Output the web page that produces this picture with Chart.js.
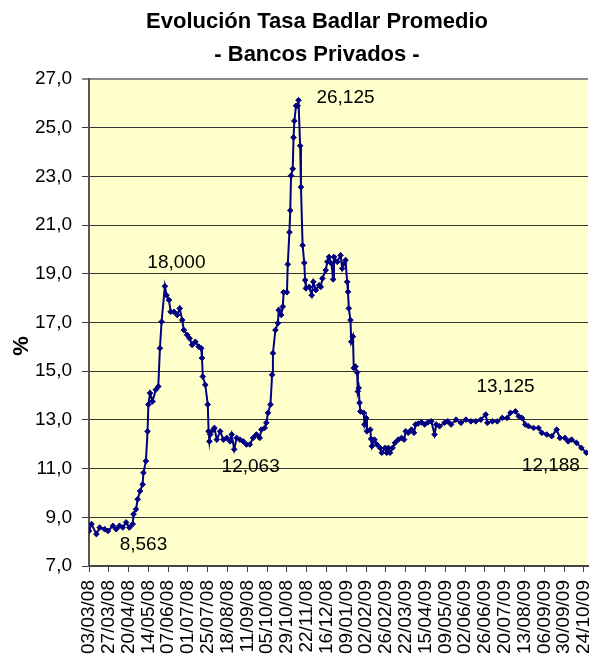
<!DOCTYPE html>
<html>
<head>
<meta charset="utf-8">
<script src="https://cdn.jsdelivr.net/npm/chart.js@4"></script>
<style>
  html, body { margin: 0; padding: 0; background: #ffffff; }
  #c { display: block; }
</style>
</head>
<body>
<canvas id="c" width="593" height="659"></canvas>
<script>
// ---- DATA ----
// Day offsets from 03/03/2008 for each observation
const dayOffsets = [
  0, 3, 9, 13, 19, 23, 29, 33, 37, 41, 45, 49, 53, 54, 57, 59, 62, 65, 66, 69,
  71, 72, 74, 77, 81, 84, 86, 88, 92, 94, 97, 99, 103, 107, 110, 113, 115, 119, 122, 125,
  129, 133, 136, 137, 138, 141, 144, 145, 146, 147, 151, 152, 155, 159, 163, 167, 171, 173, 176, 179,
  183, 187, 191, 195, 199, 203, 207, 209, 213, 215, 217, 220, 222, 223, 226, 229, 230, 233, 235, 236,
  240, 241, 243, 244, 245, 247, 248, 249, 251, 253, 254, 256, 257, 259, 261, 262, 263, 267, 270, 272,
  275, 279, 281, 283, 287, 289, 291, 294, 296, 297, 301, 305, 307, 309, 311, 313, 314, 315, 317, 318,
  320, 321, 323, 325, 326, 327, 328, 329, 333, 334, 336, 337, 341, 342, 343, 346, 349, 353, 355, 359,
  361, 363, 365, 368, 371, 375, 379, 382, 384, 387, 391, 394, 396, 399, 403, 407, 411, 415, 419, 421,
  425, 431, 435, 439, 445, 451, 457, 463, 469, 475, 481, 483, 489, 495, 501, 507, 511, 517, 521, 525,
  529, 533, 539, 545, 549, 555, 561, 567, 571, 577, 581, 585, 591, 597, 603
];
// Tasa Badlar promedio bancos privados (%)
const badlarValues = [
  8.44, 8.72, 8.31, 8.58, 8.51, 8.44, 8.65, 8.51, 8.65, 8.58, 8.79, 8.58, 8.72, 9.13, 9.33, 9.74, 10.08, 10.35, 10.83, 11.31,
  12.53, 13.63, 14.10, 13.76, 14.24, 14.37, 15.94, 17.03, 18.49, 18.12, 17.92, 17.44, 17.44, 17.31, 17.58, 17.10, 16.69, 16.49, 16.35, 16.08,
  16.21, 16.01, 15.94, 15.54, 14.78, 14.44, 13.63, 12.53, 12.12, 12.40, 12.60, 12.67, 12.19, 12.53, 12.19, 12.26, 12.12, 12.40, 11.79, 12.26,
  12.19, 12.12, 11.99, 11.99, 12.26, 12.40, 12.26, 12.60, 12.67, 12.88, 13.29, 13.63, 14.85, 15.74, 16.69, 16.97, 17.51, 17.31, 17.65, 18.24,
  18.24, 19.39, 20.71, 21.60, 23.03, 23.31, 24.60, 25.28, 25.90, 25.90, 26.13, 24.26, 22.56, 20.17, 19.45, 18.74, 18.40, 18.46, 18.12, 18.67,
  18.33, 18.53, 18.46, 18.81, 19.15, 19.49, 19.69, 19.42, 18.77, 19.69, 19.49, 19.76, 19.22, 19.42, 19.56, 18.67, 18.26, 17.58, 17.10, 16.21,
  16.42, 15.13, 15.19, 14.95, 14.17, 14.31, 13.70, 13.35, 13.29, 12.81, 13.08, 12.53, 12.60, 12.22, 11.92, 12.19, 11.99, 11.85, 11.65, 11.85,
  11.65, 11.85, 11.65, 11.85, 12.06, 12.19, 12.26, 12.19, 12.53, 12.47, 12.60, 12.47, 12.81, 12.85, 12.90, 12.81, 12.90, 12.94, 12.40, 12.81,
  12.74, 12.88, 12.94, 12.81, 13.01, 12.88, 13.01, 12.94, 12.94, 13.01, 13.22, 12.88, 12.94, 12.94, 13.08, 13.08, 13.29, 13.35, 13.15, 13.08,
  12.81, 12.74, 12.67, 12.67, 12.47, 12.40, 12.33, 12.60, 12.26, 12.26, 12.12, 12.19, 12.06, 11.85, 11.65
];
// X-axis tick labels, one every 24 days
const tickLabels = [
  "03/03/08", "27/03/08", "20/04/08", "14/05/08", "07/06/08", "01/07/08", "25/07/08",
  "18/08/08", "11/09/08", "05/10/08", "29/10/08", "22/11/08", "16/12/08", "09/01/09",
  "02/02/09", "26/02/09", "22/03/09", "15/04/09", "09/05/09", "02/06/09", "26/06/09",
  "20/07/09", "13/08/09", "06/09/09", "30/09/09", "24/10/09"
];
const tickStepDays = 24;
const chartTitle = ["Evolución Tasa Badlar Promedio", "- Bancos Privados -"];
const yAxisTitle = "%";
// Value annotations: text, and the data location (day, %) at which the text is centred
const annotationTexts = ["8,563", "18,000", "12,063", "26,125", "13,125", "12,188"];
const annotationDays  = [66, 106, 196, 311, 505, 560];
const annotationLevels = [7.88, 19.45, 11.08, 26.22, 14.37, 11.12];

// ---- CHART ----
const FONT = "'Liberation Sans', Arial, sans-serif";

const decorPlugin = {
  id: 'decor',
  beforeDraw(chart) {
    const {ctx, chartArea: a} = chart;
    ctx.save();
    ctx.fillStyle = '#FFFFCC';
    ctx.fillRect(a.left, a.top, a.right - a.left, a.bottom - a.top);
    ctx.restore();
  },
  afterDraw(chart) {
    const {ctx, scales} = chart;
    ctx.save();
    // title
    ctx.fillStyle = '#000';
    ctx.textAlign = 'center';
    ctx.textBaseline = 'middle';
    ctx.font = 'bold 22px ' + FONT;
    ctx.fillText(chartTitle[0], 317, 22);
    ctx.fillText(chartTitle[1], 317, 55);
    // y axis title
    ctx.save();
    ctx.translate(22, 346);
    ctx.rotate(-Math.PI / 2);
    ctx.font = 'bold 22px ' + FONT;
    ctx.fillText(yAxisTitle, 0, 0);
    ctx.restore();
    // annotations
    ctx.font = '19px ' + FONT;
    for (let i = 0; i < annotationTexts.length; i++) {
      const x = scales.x.getPixelForValue(annotationDays[i]);
      const y = scales.y.getPixelForValue(annotationLevels[i]);
      ctx.fillText(annotationTexts[i], x, y);
    }
    ctx.restore();
  }
};

new Chart(document.getElementById('c'), {
  type: 'line',
  data: {
    datasets: [{
      label: 'Badlar',
      data: dayOffsets.map((d, i) => ({x: d, y: badlarValues[i]})),
      borderColor: '#000080',
      backgroundColor: '#000080',
      borderWidth: 2,
      pointStyle: 'rectRot',
      pointRadius: 2.8,
      pointBorderWidth: 1,
      pointBackgroundColor: '#000080',
      pointBorderColor: '#000080',
      tension: 0,
      fill: false
    }]
  },
  options: {
    responsive: false,
    animation: false,
    devicePixelRatio: 1,
    layout: { padding: { top: 79, left: 0, right: 0, bottom: 0 } },
    plugins: {
      legend: { display: false },
      title: { display: false },
      tooltip: { enabled: false }
    },
    scales: {
      x: {
        type: 'linear',
        min: 0,
        max: 605,
        bounds: 'data',
        afterFit(s) { s.height = 93; s.paddingLeft = 0; s.paddingRight = 0; },
        ticks: {
          stepSize: tickStepDays,
          includeBounds: false,
          autoSkip: false,
          minRotation: 90,
          maxRotation: 90,
          padding: 8,
          color: '#000',
          font: { family: FONT, size: 19 },
          callback: (v) => {
            const k = v / tickStepDays;
            return Number.isInteger(k) && tickLabels[k] !== undefined ? tickLabels[k] : null;
          }
        },
        grid: { drawOnChartArea: false, drawTicks: true, tickLength: 6, color: '#444', lineWidth: 1 },
        border: { display: true, color: '#444', width: 2 }
      },
      y: {
        min: 7,
        max: 27,
        afterFit(s) { s.width = 89; },
        ticks: {
          stepSize: 2,
          padding: 10,
          color: '#000',
          font: { family: FONT, size: 19 },
          callback: (v) => v.toFixed(1).replace('.', ',')
        },
        grid: {
          color: (c) => (c.tick && c.tick.value === 27 ? '#888' : '#333'),
          lineWidth: (c) => (c.tick && c.tick.value === 27 ? 2 : 1),
          tickLength: 7
        },
        border: { display: true, color: '#555', width: 2 }
      }
    }
  },
  plugins: [decorPlugin]
});
</script>
</body>
</html>
